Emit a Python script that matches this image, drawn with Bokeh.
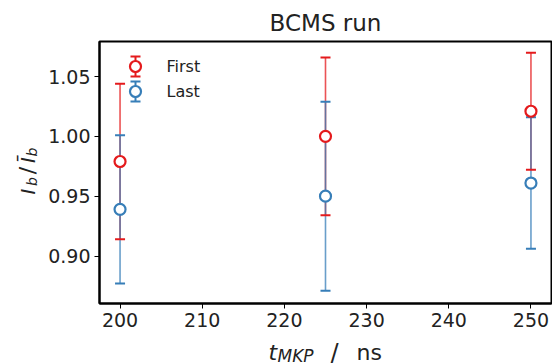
import math
from bokeh.plotting import figure
from bokeh.layouts import row, column
from bokeh.models import Range1d, Label, FixedTicker, ColumnDataSource
from bokeh.embed import file_html
from bokeh.resources import INLINE

# ---- data ----
t_mkp = [200, 225, 250]
first_mean = [0.979, 1.000, 1.021]
first_err = [0.065, 0.066, 0.049]
last_mean = [0.939, 0.950, 0.961]
last_err = [0.062, 0.079, 0.055]
series_names = ["First", "Last"]
x_ticks = [200, 210, 220, 230, 240, 250]
y_ticks = [0.90, 0.95, 1.00, 1.05]
title_text = "BCMS run"

# ---- style / layout ----
RED = "#e41a1c"
BLUE = "#377eb8"
TXT = "#222222"
FONT = "DejaVu Sans"
X0, X1 = 197.5, 252.5
Y0, Y1 = 0.8603, 1.0793
W, H = 552, 363
LEFT_W = 40          # strip holding the y-axis label
MAIN_H = 336         # main figure height; strip below holds the x label
FL, FR, FT, FB = 99, 551, 41, 303   # frame edges in page pixels


def px_x(px):
    return X0 + (px - FL) / (FR - FL) * (X1 - X0)


def px_y(py):
    return Y1 - (py - FT) / (FB - FT) * (Y1 - Y0)


p = figure(width=W - LEFT_W, height=MAIN_H, output_backend="svg",
           toolbar_location=None,
           x_range=Range1d(X0, X1), y_range=Range1d(Y0, Y1),
           min_border_left=FL - LEFT_W, min_border_right=W - FR,
           min_border_top=FT, min_border_bottom=MAIN_H - FB)
p.title.text = title_text
p.title.align = "center"
p.title.text_font = FONT
p.title.text_font_size = "23px"
p.title.text_font_style = "normal"
p.title.text_color = TXT
p.title.standoff = 12

p.xgrid.visible = False
p.ygrid.visible = False
p.outline_line_color = "black"
p.outline_line_width = 2
p.outline_line_alpha = 1
p.background_fill_color = "white"
p.border_fill_color = "white"

for ax in (p.xaxis[0], p.yaxis[0]):
    ax.axis_line_color = "black"
    ax.axis_line_width = 2
    ax.major_tick_line_color = "black"
    ax.major_tick_line_width = 1
    ax.major_tick_out = 5
    ax.major_tick_in = 0
    ax.minor_tick_line_color = None
    ax.major_label_text_font = FONT
    ax.major_label_text_font_size = "19px"
    ax.major_label_text_color = TXT

p.xaxis.ticker = FixedTicker(ticks=x_ticks)
p.yaxis.ticker = FixedTicker(ticks=y_ticks)
p.xaxis.major_label_overrides = {t: f"{t:d}" for t in x_ticks}
p.yaxis.major_label_overrides = {t: f"{t:.2f}" for t in y_ticks}
p.xaxis.major_label_standoff = 4
p.yaxis.major_label_standoff = 4


def src(mean, err):
    return ColumnDataSource(dict(
        x=t_mkp, y=mean,
        lo=[m - e for m, e in zip(mean, err)],
        hi=[m + e for m, e in zip(mean, err)],
    ))


s_first = src(first_mean, first_err)
s_last = src(last_mean, last_err)

# error-bar stems
for s, c in ((s_first, RED), (s_last, BLUE)):
    p.segment(x0="x", y0="lo", x1="x", y1="hi", source=s,
              line_color=c, line_width=1.6, line_alpha=0.75)
# caps
for s, c in ((s_first, RED), (s_last, BLUE)):
    p.scatter(x="x", y="lo", source=s, marker="dash", size=10,
              line_color=c, line_width=2)
    p.scatter(x="x", y="hi", source=s, marker="dash", size=10,
              line_color=c, line_width=2)
# open circle markers
for s, c in ((s_first, RED), (s_last, BLUE)):
    p.scatter(x="x", y="y", source=s, marker="circle", size=11,
              line_color=c, line_width=2.2, fill_color="white")

# ---- legend (placed relative to the frame) ----
leg_px = 135
leg_rows = [66, 91]
for name, c, py in zip(series_names, (RED, BLUE), leg_rows):
    lx = px_x(leg_px)
    p.segment(x0=[lx], y0=[px_y(py + 10)], x1=[lx], y1=[px_y(py - 10)],
              line_color=c, line_width=2)
    p.scatter(x=[lx, lx], y=[px_y(py + 10), px_y(py - 10)], marker="dash",
              size=10, line_color=c, line_width=2)
    p.scatter(x=[lx], y=[px_y(py)], marker="circle", size=11,
              line_color=c, line_width=2.2, fill_color="white")
    p.add_layout(Label(x=px_x(166), y=px_y(py), text=name,
                       text_font=FONT, text_font_size="16px",
                       text_baseline="middle", text_align="left",
                       text_color=TXT))


def strip(w, h, x_lo, x_hi, y_top, y_bot, bl=0, br=0):
    f = figure(width=w, height=h, output_backend="svg", toolbar_location=None,
               title=None,
               x_range=Range1d(x_lo, x_hi), y_range=Range1d(y_bot, y_top),
               x_axis_location=None, y_axis_location=None,
               min_border=0, min_border_left=bl, min_border_right=br,
               outline_line_color=None)
    f.xgrid.visible = False
    f.ygrid.visible = False
    f.background_fill_color = "white"
    f.border_fill_color = "white"
    return f


def lab(f, px, py, text, size, italic=True, angle=0.0, align="left"):
    f.add_layout(Label(x=px, y=py, text=text, angle=angle,
                       text_font=FONT, text_font_size=size,
                       text_font_style="italic" if italic else "normal",
                       text_baseline="alphabetic", text_align=align,
                       text_color=TXT))


# strip below: x-axis label  t_MKP / ns   (page pixel coordinates,
# same side borders as the main figure so the frames line up)
xl = strip(W - LEFT_W, H - MAIN_H, FL, FR, MAIN_H, H,
           bl=FL - LEFT_W, br=W - FR)
lab(xl, 268, 352, "t", "22px")
lab(xl, 277, 355, "MKP", "17px")
lab(xl, 330, 352, "/", "24px", italic=False)
lab(xl, 356, 352, "ns", "22px", italic=False)

# strip left: y-axis label  I_b / Ī_b  (rotated, page pixel coordinates)
yl = strip(LEFT_W, H, 0, LEFT_W, 0, H)
R = math.pi / 2
BX = 27
lab(yl, BX, 194, "I", "20px", angle=R)
lab(yl, BX + 4, 185.5, "b", "14px", angle=R)
lab(yl, BX, 170, "/", "22px", italic=False, angle=R, align="center")
lab(yl, BX, 162.5, "Ī", "20px", angle=R)
lab(yl, BX + 4, 156, "b", "14px", angle=R)

layout = row(yl, column(p, xl))
open("out.html", "w").write(file_html(layout, INLINE))
